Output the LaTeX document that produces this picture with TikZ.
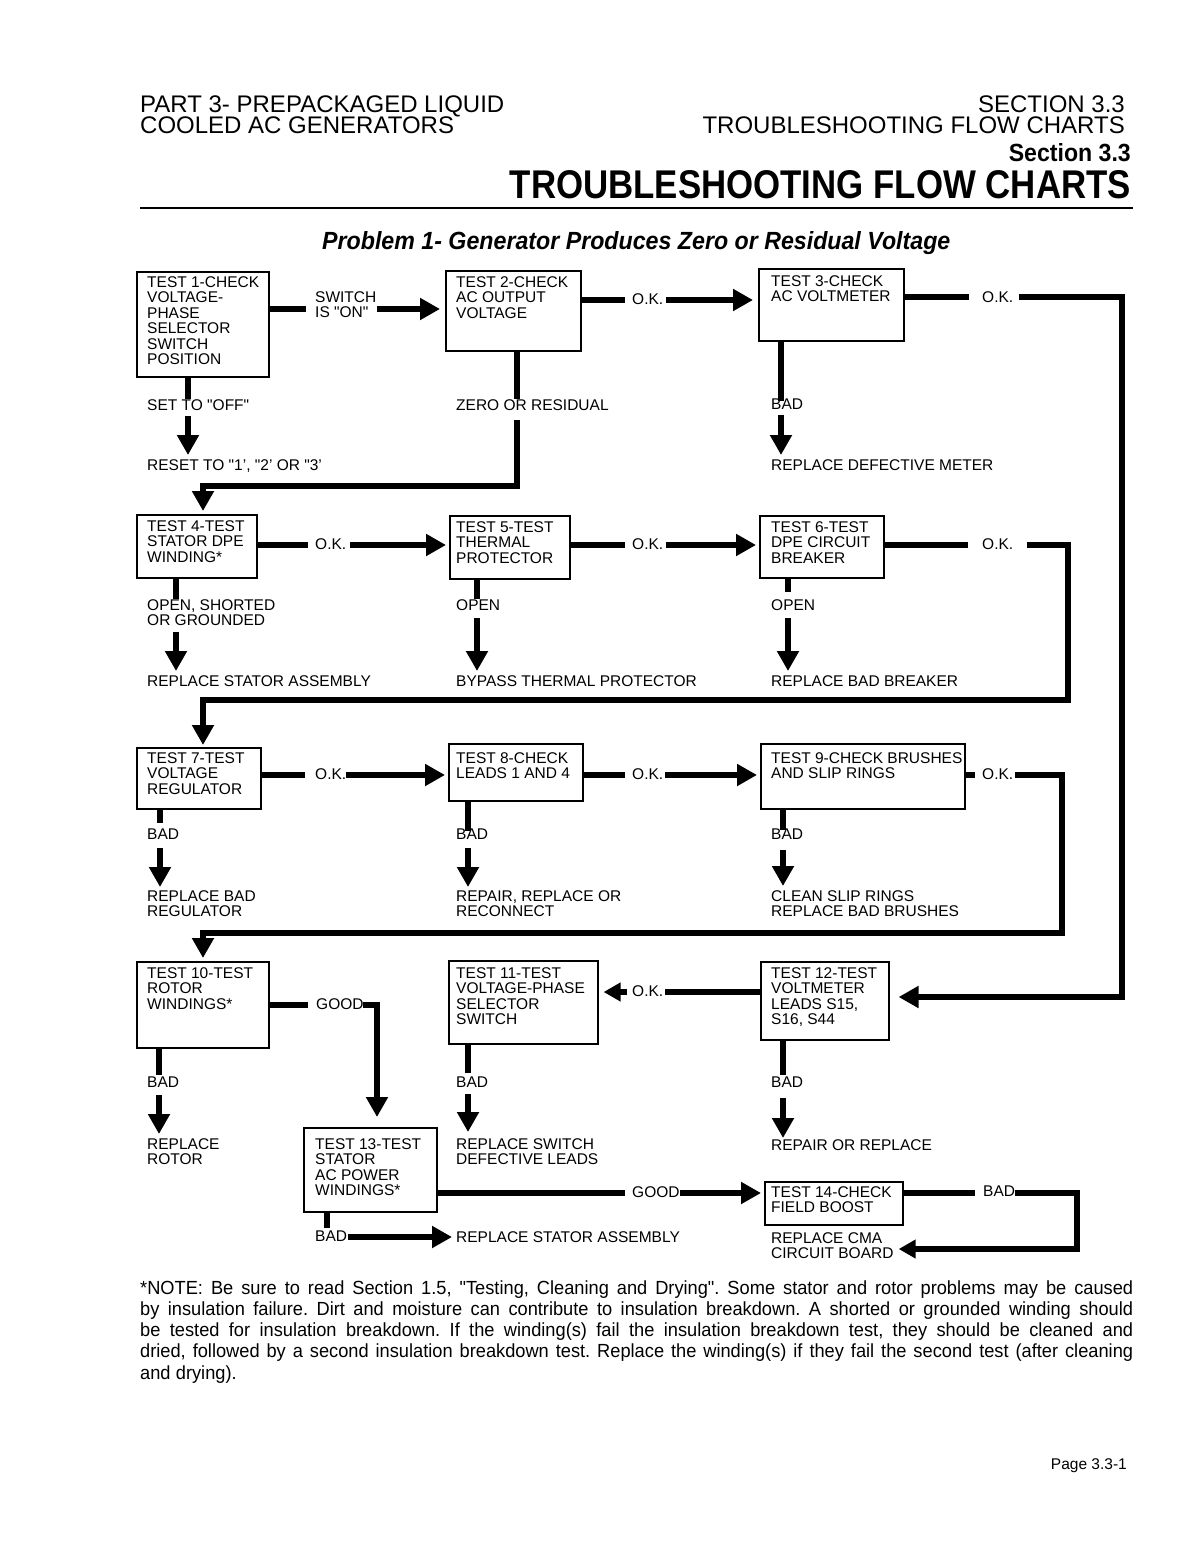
\documentclass[tikz,border=0pt]{standalone}
\usepackage{fontspec}
\usepackage{graphicx}
\setmainfont{Liberation Sans}
\newfontfamily\notefont[FakeStretch=0.96]{Liberation Sans}
\usetikzlibrary{arrows.meta,calc}
\newcommand\bxf{\fontsize{15.5pt}{15.5pt}\selectfont}
\newcommand\hdrf{\fontsize{24pt}{24pt}\selectfont}
\newcommand\dq{\textquotedbl}
\begin{document}
\begin{tikzpicture}[x=1pt,y=-1pt,
  box/.style={draw, line width=1.6pt, inner sep=0pt, anchor=north west},
  txt/.style={inner sep=0pt, anchor=north west, align=left, font=\bxf},
  lab/.style={inner sep=0pt, anchor=north west, align=left, font=\bxf},
  ln/.style={line width=6pt, line join=miter},
  arr/.style={ln, -{Triangle[length=20pt,width=21pt]}},
  arrs/.style={ln, -{Triangle[length=17pt,width=18pt]}},
  hdr/.style={inner sep=0pt, font=\hdrf}]
\fill[white] (0,0) rectangle (1187,1544);
\useasboundingbox (0,0) rectangle (1187,1544);

% ---------- header ----------
\node[hdr, anchor=base west] (h1) at (140,113) {PART 3- PREPACKAGED LIQUID};
\node[hdr, anchor=base west] (h2) at (140,134) {COOLED AC GENERATORS};
\node[hdr, anchor=base east] (h3) at (1125,113) {SECTION 3.3};
\node[hdr, anchor=base east] (h4) at (1125,134) {TROUBLESHOOTING FLOW CHARTS};
\node[inner sep=0pt, anchor=base east] (h5) at (1131,162) {\resizebox{122pt}{18pt}{\bfseries Section 3.3}};
\node[inner sep=0pt, anchor=base east] (h6) at (1131,198) {\resizebox{621pt}{28pt}{\bfseries TROUBLESHOOTING FLOW CHARTS}};
\draw[line width=2pt] (140,208) -- (1133,208);
\node[inner sep=0pt, anchor=base west] (prob) at (322,249) {\resizebox{628pt}{18pt}{\bfseries\itshape Problem 1- Generator Produces Zero or Residual Voltage}};

% ---------- boxes ----------
\node[box, minimum width=132pt, minimum height=105pt] (b1) at (136,271) {};
\node[box, minimum width=135pt, minimum height=80pt] (b2) at (445,270) {};
\node[box, minimum width=145pt, minimum height=72pt] (b3) at (758,268) {};
\node[box, minimum width=120pt, minimum height=63pt] (b4) at (136,514) {};
\node[box, minimum width=120pt, minimum height=63pt] (b5) at (449,515) {};
\node[box, minimum width=124pt, minimum height=62pt] (b6) at (759,515) {};
\node[box, minimum width=124pt, minimum height=61pt] (b7) at (136,747) {};
\node[box, minimum width=134pt, minimum height=57pt] (b8) at (448,743) {};
\node[box, minimum width=204pt, minimum height=65pt] (b9) at (760,743) {};
\node[box, minimum width=132pt, minimum height=86pt] (b10) at (136,961) {};
\node[box, minimum width=149pt, minimum height=83pt] (b11) at (448,960) {};
\node[box, minimum width=128pt, minimum height=78pt] (b12) at (760,961) {};
\node[box, minimum width=133pt, minimum height=84pt] (b13) at (303,1127) {};
\node[box, minimum width=138pt, minimum height=43pt] (b14) at (764,1181) {};

\node[txt] (t1) at (147,276) {TEST 1-CHECK\\VOLTAGE-\\PHASE\\SELECTOR\\SWITCH\\POSITION};
\node[txt] (t2) at (456,276) {TEST 2-CHECK\\AC OUTPUT\\VOLTAGE};
\node[txt] (t3) at (771,275) {TEST 3-CHECK\\AC VOLTMETER};
\node[txt] (t4) at (147,520) {TEST 4-TEST\\STATOR DPE\\WINDING*};
\node[txt] (t5) at (456,521) {TEST 5-TEST\\THERMAL\\PROTECTOR};
\node[txt] (t6) at (771,521) {TEST 6-TEST\\DPE CIRCUIT\\BREAKER};
\node[txt] (t7) at (147,752) {TEST 7-TEST\\VOLTAGE\\REGULATOR};
\node[txt] (t8) at (456,752) {TEST 8-CHECK\\LEADS 1 AND 4};
\node[txt] (t9) at (771,752) {TEST 9-CHECK BRUSHES\\AND SLIP RINGS};
\node[txt] (t10) at (147,967) {TEST 10-TEST\\ROTOR\\WINDINGS*};
\node[txt] (t11) at (456,967) {TEST 11-TEST\\VOLTAGE-PHASE\\SELECTOR\\SWITCH};
\node[txt] (t12) at (771,967) {TEST 12-TEST\\VOLTMETER\\LEADS S15,\\S16, S44};
\node[txt] (t13) at (315,1138) {TEST 13-TEST\\STATOR\\AC POWER\\WINDINGS*};
\node[txt] (t14) at (771,1186) {TEST 14-CHECK\\FIELD BOOST};

% ---------- labels ----------
\node[lab] (sw) at (315,291) {SWITCH\\IS \dq ON\dq};
\node[lab] (ok1) at (632,293) {O.K.};
\node[lab] (ok2) at (982,291) {O.K.};
\node[lab] (set) at (147,399) {SET TO \dq OFF\dq};
\node[lab] (reset) at (147,459) {RESET TO \dq 1', \dq 2' OR \dq 3'};
\node[lab] (zero) at (456,399) {ZERO OR RESIDUAL};
\node[lab] (bad3) at (771,399) {BAD};
\node[lab] (rdm) at (771,459) {REPLACE DEFECTIVE METER};

\node[lab] (ok3) at (315,538) {O.K.};
\node[lab] (ok4) at (632,538) {O.K.};
\node[lab] (ok5) at (982,538) {O.K.};
\node[lab] (open4) at (147,599) {OPEN, SHORTED\\OR GROUNDED};
\node[lab] (open5) at (456,599) {OPEN};
\node[lab] (open6) at (771,599) {OPEN};
\node[lab] (rsa) at (147,675) {REPLACE STATOR ASSEMBLY};
\node[lab] (btp) at (456,675) {BYPASS THERMAL PROTECTOR};
\node[lab] (rbb) at (771,675) {REPLACE BAD BREAKER};

\node[lab] (ok6) at (315,768) {O.K.};
\node[lab] (ok7) at (632,768) {O.K.};
\node[lab] (ok8) at (982,768) {O.K.};
\node[lab] (bad7) at (147,829) {BAD};
\node[lab] (bad8) at (456,829) {BAD};
\node[lab] (bad9) at (771,829) {BAD};
\node[lab] (rbr) at (147,890) {REPLACE BAD\\REGULATOR};
\node[lab] (rrr) at (456,890) {REPAIR, REPLACE OR\\RECONNECT};
\node[lab] (csr) at (771,890) {CLEAN SLIP RINGS\\REPLACE BAD BRUSHES};

\node[lab] (good1) at (316,998) {GOOD};
\node[lab] (ok9) at (632,985) {O.K.};
\node[lab] (bad10) at (147,1077) {BAD};
\node[lab] (bad11) at (456,1077) {BAD};
\node[lab] (bad12) at (771,1077) {BAD};
\node[lab] (rro) at (147,1138) {REPLACE\\ROTOR};
\node[lab] (rsd) at (456,1138) {REPLACE SWITCH\\DEFECTIVE LEADS};
\node[lab] (ror) at (771,1139) {REPAIR OR REPLACE};
\node[lab] (good2) at (632,1186) {GOOD};
\node[lab] (bad13) at (315,1231) {BAD};
\node[lab] (rsa2) at (456,1231) {REPLACE STATOR ASSEMBLY};
\node[lab] (bad14) at (983,1186) {BAD};
\node[lab] (cma) at (771,1232) {REPLACE CMA\\CIRCUIT BOARD};

% ---------- bend points ----------
\coordinate (k1) at (517,486);
\coordinate (k2) at (203,486);
\coordinate (c3a) at (1122,297);
\coordinate (c3b) at (1122,997);
\coordinate (k3) at (1068,545);
\coordinate (k4) at (1068,700);
\coordinate (k5) at (203,700);
\coordinate (k6) at (1062,775);
\coordinate (k7) at (1062,933);
\coordinate (k8) at (203,933);
\coordinate (k9) at (377,1005);
\coordinate (k10) at (1077,1193);
\coordinate (k11) at (1077,1249);

% ---------- row 1 connectors ----------
\draw[ln, shorten >=9pt] (b1.east |- 0,309) -- (sw.west |- 0,309);
\draw[arr, shorten >=5pt] (sw.east |- 0,309) -- (b2.west |- 0,309);
\draw[ln, shorten >=7pt] (b2.east |- 0,300) -- (ok1.west |- 0,300);
\draw[arr, shorten <=3pt, shorten >=5pt] (ok1.east |- 0,300) -- (b3.west |- 0,300);
\draw[ln, shorten >=13pt] (b3.east |- 0,297) -- (ok2.west |- 0,297);
\draw[arr, shorten <=6pt, shorten >=9pt] (ok2.east |- c3a) -- (c3a) -- (c3b) -- (b12.east |- c3b);
\draw[ln] (b1.south -| 188,0) -- (set.north -| 188,0);
\draw[arr, shorten <=6pt, shorten >=4pt] (set.south -| 188,0) -- (reset.north -| 188,0);
\draw[ln] (b2.south -| k1) -- (zero.north -| k1);
\draw[arr, shorten <=10pt, shorten >=3pt] (zero.south -| k1) -- (k1) -- (k2) -- (b4.north -| k2);
\draw[ln, shorten >=-2pt] (b3.south -| 781,0) -- (bad3.north -| 781,0);
\draw[arr, shorten <=5pt, shorten >=4pt] (bad3.south -| 781,0) -- (rdm.north -| 781,0);

% ---------- row 2 connectors ----------
\draw[ln, shorten >=7pt] (b4.east |- k3) -- (ok3.west |- k3);
\draw[arr, shorten <=4pt, shorten >=3pt] (ok3.east |- k3) -- (b5.west |- k3);
\draw[ln, shorten >=7pt] (b5.east |- k3) -- (ok4.west |- k3);
\draw[arr, shorten <=3pt, shorten >=3pt] (ok4.east |- k3) -- (b6.west |- k3);
\draw[ln, shorten >=14pt] (b6.east |- k3) -- (ok5.west |- k3);
\draw[arr, shorten <=14pt, shorten >=2pt] (ok5.east |- k3) -- (k3) -- (k4) -- (k5) -- (b7.north -| k5);
\draw[ln] (b4.south -| 176,0) -- (open4.north -| 176,0);
\draw[arr, shorten <=6pt, shorten >=4pt] (open4.south -| 176,0) -- (rsa.north -| 176,0);
\draw[ln] (b5.south -| 477,0) -- (open5.north -| 477,0);
\draw[arr, shorten <=8pt, shorten >=4pt] (open5.south -| 477,0) -- (btp.north -| 477,0);
\draw[ln, shorten >=7pt] (b6.south -| 788,0) -- (open6.north -| 788,0);
\draw[arr, shorten <=8pt, shorten >=4pt] (open6.south -| 788,0) -- (rbb.north -| 788,0);

% ---------- row 3 connectors ----------
\draw[ln, shorten >=10pt] (b7.east |- k6) -- (ok6.west |- k6);
\draw[arr, shorten >=3pt] (ok6.east |- k6) -- (b8.west |- k6);
\draw[ln, shorten >=7pt] (b8.east |- k6) -- (ok7.west |- k6);
\draw[arr, shorten <=2pt, shorten >=3pt] (ok7.east |- k6) -- (b9.west |- k6);
\draw[ln, shorten >=7pt] (b9.east |- k6) -- (ok8.west |- k6);
\draw[arr, shorten <=2pt, shorten >=3pt] (ok8.east |- k6) -- (k6) -- (k7) -- (k8) -- (b10.north -| k8);
\draw[ln, shorten >=6pt] (b7.south -| 160,0) -- (bad7.north -| 160,0);
\draw[arr, shorten <=8pt, shorten >=3pt] (bad7.south -| 160,0) -- (rbr.north -| 160,0);
\draw[ln, shorten >=-2pt] (b8.south -| 468,0) -- (bad8.north -| 468,0);
\draw[arr, shorten <=8pt, shorten >=3pt] (bad8.south -| 468,0) -- (rrr.north -| 468,0);
\draw[ln, shorten >=-1pt] (b9.south -| 783,0) -- (bad9.north -| 783,0);
\draw[arr, shorten <=10pt, shorten >=4pt] (bad9.south -| 783,0) -- (csr.north -| 783,0);

% ---------- row 4 connectors ----------
\draw[ln, shorten >=8pt] (b10.east |- k9) -- (good1.west |- k9);
\draw[arr, shorten <=-1pt, shorten >=10pt] (good1.east |- k9) -- (k9) -- (b13.north -| k9);
\draw[ln, shorten >=2pt] (b12.west |- 0,992) -- (ok9.east |- 0,992);
\draw[arrs, shorten <=5pt, shorten >=5pt] (ok9.west |- 0,992) -- (b11.east |- 0,992);
\draw[ln, shorten >=2pt] (b10.south -| 159,0) -- (bad10.north -| 159,0);
\draw[arr, shorten <=7pt, shorten >=4pt] (bad10.south -| 159,0) -- (rro.north -| 159,0);
\draw[ln, shorten >=4pt] (b11.south -| 468,0) -- (bad11.north -| 468,0);
\draw[arr, shorten <=6pt, shorten >=6pt] (bad11.south -| 468,0) -- (rsd.north -| 468,0);
\draw[ln, shorten >=2pt] (b12.south -| 783,0) -- (bad12.north -| 783,0);
\draw[arr, shorten <=10pt, shorten >=1pt] (bad12.south -| 783,0) -- (ror.north -| 783,0);
\draw[ln, shorten >=7pt] (b13.east |- k10) -- (good2.west |- k10);
\draw[arr, shorten >=3pt] (good2.east |- k10) -- (b14.west |- k10);
\draw[ln, shorten >=3pt] (b13.south -| 327,0) -- (bad13.north -| 327,0);
\draw[arr, shorten <=1pt, shorten >=4pt] (bad13.east |- 0,1237) -- (rsa2.west |- 0,1237);
\draw[ln, shorten >=8pt] (b14.east |- k10) -- (bad14.west |- k10);
\draw[arrs, shorten >=5pt] (bad14.east |- k10) -- (k10) -- (k11) -- (cma.east |- k11);

% ---------- note ----------
\node[anchor=base west, inner sep=0pt] (note) at (140,1294) {\vtop{\hsize=993pt
  \fontsize{19pt}{21.3pt}\notefont \frenchspacing
  \spaceskip=0.278em plus 0.5em minus 0.12em
  \baselineskip=21.3pt \parindent=0pt
  \hbox to 993pt{*NOTE: Be sure to read Section 1.5, "Testing, Cleaning and Drying". Some stator and rotor problems may be caused}
  \hbox to 993pt{by insulation failure. Dirt and moisture can contribute to insulation breakdown. A shorted or grounded winding should}
  \hbox to 993pt{be tested for insulation breakdown. If the winding(s) fail the insulation breakdown test, they should be cleaned and}
  \hbox to 993pt{dried, followed by a second insulation breakdown test. Replace the winding(s) if they fail the second test (after cleaning}
  \hbox{and drying).}}};
\node[anchor=base east, inner sep=0pt, font=\bxf] (page) at (1127,1469) {Page 3.3-1};
\end{tikzpicture}
\end{document}
